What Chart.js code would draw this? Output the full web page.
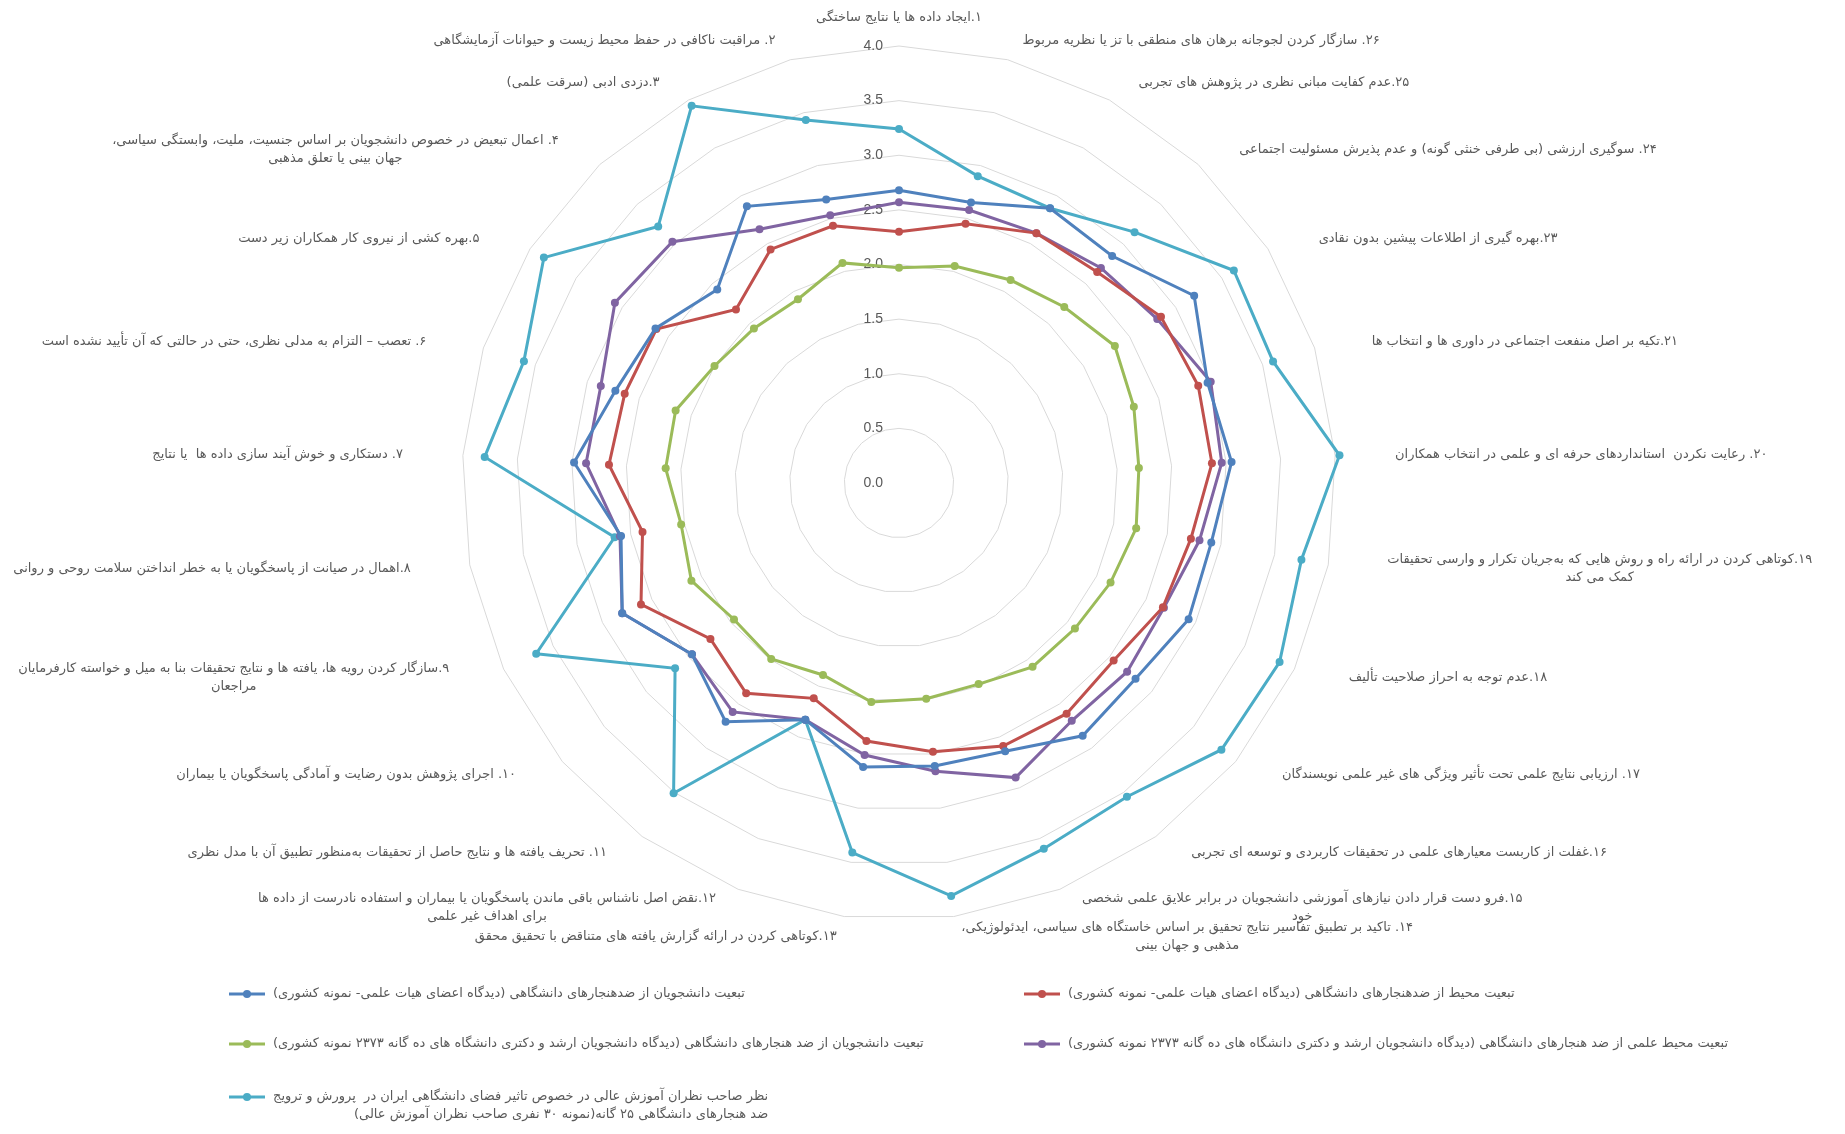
<!DOCTYPE html>
<html>
<head>
<meta charset="utf-8">
<script src="https://cdn.jsdelivr.net/npm/chart.js@4.4.0/dist/chart.umd.min.js"></script>
<style>
  html, body { margin: 0; padding: 0; background: #fff; }
  #wrap { position: relative; width: 1845px; height: 1134px; }
</style>
</head>
<body>
<div id="wrap"><canvas id="radar" width="1845" height="1134"></canvas></div>
<script>
// spokes, clockwise from the top (as in the original workbook)
const categories = [
  "۱.ایجاد داده ها یا نتایج ساختگی",
  "۲۶. سازگار کردن لجوجانه برهان های منطقی با تز یا نظریه مربوط",
  "۲۵.عدم کفایت مبانی نظری در پژوهش های تجربی",
  "۲۴. سوگیری ارزشی (بی طرفی خنثی گونه) و عدم پذیرش مسئولیت اجتماعی",
  "۲۳.بهره گیری از اطلاعات پیشین بدون نقادی",
  "۲۱.تکیه بر اصل منفعت اجتماعی در داوری ها و انتخاب ها",
  "۲۰. رعایت نکردن  استانداردهای حرفه ای و علمی در انتخاب همکاران",
  "۱۹.کوتاهی کردن در ارائه راه و روش هایی که به‌جریان تکرار و وارسی تحقیقات\nکمک می کند",
  "۱۸.عدم توجه به احراز صلاحیت تألیف",
  "۱۷. ارزیابی نتایج علمی تحت تأثیر ویژگی های غیر علمی نویسندگان",
  "۱۶.غفلت از کاربست معیارهای علمی در تحقیقات کاربردی و توسعه ای تجربی",
  "۱۵.فرو دست قرار دادن نیازهای آموزشی دانشجویان در برابر علایق علمی شخصی\nخود",
  "۱۴. تاکید بر تطبیق تفاسیر نتایج تحقیق بر اساس خاستگاه های سیاسی، ایدئولوژیکی،\nمذهبی و جهان بینی",
  "۱۳.کوتاهی کردن در ارائه گزارش یافته های متناقض با تحقیق محقق",
  "۱۲.نقض اصل ناشناس باقی ماندن پاسخگویان یا بیماران و استفاده نادرست از داده ها\nبرای اهداف غیر علمی",
  "۱۱. تحریف یافته ها و نتایج حاصل از تحقیقات به‌منظور تطبیق آن با مدل نظری",
  "۱۰. اجرای پژوهش بدون رضایت و آمادگی پاسخگویان یا بیماران",
  "۹.سازگار کردن رویه ها، یافته ها و نتایج تحقیقات بنا به میل و خواسته کارفرمایان\nمراجعان",
  "۸.اهمال در صیانت از پاسخگویان یا به خطر انداختن سلامت روحی و روانی",
  "۷. دستکاری و خوش آیند سازی داده ها  یا نتایج",
  "۶. تعصب – التزام به مدلی نظری، حتی در حالتی که آن تأیید نشده است",
  "۵.بهره کشی از نیروی کار همکاران زیر دست",
  "۴. اعمال تبعیض در خصوص دانشجویان بر اساس جنسیت، ملیت، وابستگی سیاسی،\nجهان بینی یا تعلق مذهبی",
  "۳.دزدی ادبی (سرقت علمی)",
  "۲. مراقبت ناکافی در حفظ محیط زیست و حیوانات آزمایشگاهی"
];

const seriesNames = [
  "تبعیت دانشجویان از ضدهنجارهای دانشگاهی (دیدگاه اعضای هیات علمی- نمونه کشوری)",
  "تبعیت محیط از ضدهنجارهای دانشگاهی (دیدگاه اعضای هیات علمی- نمونه کشوری)",
  "تبعیت دانشجویان از ضد هنجارهای دانشگاهی (دیدگاه دانشجویان ارشد و دکتری دانشگاه های ده گانه ۲۳۷۳ نمونه کشوری)",
  "تبعیت محیط علمی از ضد هنجارهای دانشگاهی (دیدگاه دانشجویان ارشد و دکتری دانشگاه های ده گانه ۲۳۷۳ نمونه کشوری)",
  "نظر صاحب نظران آموزش عالی در خصوص تاثیر فضای دانشگاهی ایران در  پرورش و ترویج\nضد هنجارهای دانشگاهی ۲۵ گانه(نمونه ۳۰ نفری صاحب نظران آموزش عالی)"
];

const studentsFaculty = [2.68, 2.65, 2.87, 2.85, 3.20, 2.97, 3.05, 2.91, 2.93, 2.81, 2.86, 2.64, 2.61,
                         2.62, 2.33, 2.70, 2.46, 2.80, 2.59, 2.98, 2.73, 2.64, 2.43, 2.89, 2.68];
const environmentFaculty = [2.30, 2.45, 2.61, 2.65, 2.84, 2.88, 2.87, 2.72, 2.67, 2.55, 2.61, 2.59, 2.48,
                            2.38, 2.12, 2.38, 2.24, 2.61, 2.39, 2.66, 2.64, 2.63, 2.18, 2.44, 2.43];
const studentsStudents = [1.97, 2.05, 2.12, 2.21, 2.34, 2.26, 2.20, 2.21, 2.14, 2.09, 2.08, 1.98, 1.99,
                          2.02, 1.89, 1.99, 1.96, 2.10, 2.03, 2.14, 2.15, 2.00, 1.94, 1.92, 2.08];
const environmentStudents = [2.57, 2.58, 2.61, 2.70, 2.80, 3.00, 2.96, 2.80, 2.68, 2.71, 2.69, 2.90, 2.66,
                             2.51, 2.33, 2.59, 2.46, 2.80, 2.60, 2.87, 2.87, 3.08, 3.03, 2.65, 2.53];
const experts = [3.24, 2.90, 2.87, 3.15, 3.63, 3.60, 4.04, 3.75, 3.85, 3.83, 3.55, 3.60, 3.81,
                 3.41, 2.33, 3.51, 2.66, 3.67, 2.65, 3.80, 3.61, 3.85, 3.22, 3.94, 3.43];

const scaleMin = 0, scaleMax = 4, scaleStep = 0.5;

const colors = ['#4F81BD', '#C0504D', '#9BBB59', '#8064A2', '#4BACC6'];
const allSeries = [studentsFaculty, environmentFaculty, studentsStudents, environmentStudents, experts];

// legend slots (left edge of the marker line, row centre)
const legendSlots = [[229, 994], [1024, 994], [229, 1044], [1024, 1044], [229, 1097]];

const textColor = '#595959';
const labelFont = '13px "DejaVu Sans"';

const overlay = {
  id: 'overlay',
  beforeDatasetsDraw(chart) {
    const r = chart.scales.r, ctx = chart.ctx;
    ctx.save();
    // value axis labels, left of the top spoke
    ctx.font = '14px "Liberation Sans"';
    ctx.fillStyle = textColor;
    ctx.textAlign = 'right';
    ctx.textBaseline = 'middle';
    r.ticks.forEach(t => {
      const d = r.getDistanceFromCenterForValue(t.value);
      ctx.fillText(t.value.toFixed(1), r.xCenter - 16, r.yCenter - d);
    });

    // category labels
    ctx.font = labelFont;
    ctx.direction = 'rtl';
    ctx.textAlign = 'center';
    const R = r.drawingArea, lh = 18;
    categories.forEach((c, i) => {
      const lines = c.split('\n');
      const p = r.getPointPosition(i, R);
      const s = (p.x - r.xCenter) / R, co = (r.yCenter - p.y) / R;
      const w = Math.max(...lines.map(l => ctx.measureText(l).width));
      const ax = p.x + 60 * s;
      let left;
      if (Math.abs(s) < 0.05) left = ax - w / 2;
      else if (s > 0) left = ax;
      else left = ax - w;
      const cy = i === 0 ? p.y - 28 : p.y - 20 * co;
      const top = cy - lines.length * lh / 2;
      lines.forEach((l, k) => ctx.fillText(l, left + w / 2, top + lh * k + lh / 2));
    });
    ctx.restore();
  },
  afterDraw(chart) {
    const ctx = chart.ctx;
    ctx.save();
    ctx.font = labelFont;
    ctx.fillStyle = textColor;
    ctx.textBaseline = 'middle';
    ctx.direction = 'rtl';
    chart.data.datasets.forEach((ds, i) => {
      const [x, y] = legendSlots[i];
      ctx.strokeStyle = ds.borderColor;
      ctx.lineWidth = 3;
      ctx.beginPath(); ctx.moveTo(x, y); ctx.lineTo(x + 36, y); ctx.stroke();
      ctx.fillStyle = ds.borderColor;
      ctx.beginPath(); ctx.arc(x + 18, y, 4, 0, Math.PI * 2); ctx.fill();
      ctx.fillStyle = textColor;
      const lines = ds.label.split('\n');
      const w = Math.max(...lines.map(l => ctx.measureText(l).width));
      ctx.textAlign = 'right';
      lines.forEach((l, k) => ctx.fillText(l, x + 44 + w, y + k * 18));
    });
    ctx.restore();
  }
};

new Chart(document.getElementById('radar'), {
  type: 'radar',
  data: {
    labels: categories,
    datasets: allSeries.map((vals, i) => ({
      label: seriesNames[i],
      data: vals,
      borderColor: colors[i],
      backgroundColor: colors[i],
      pointBackgroundColor: colors[i],
      pointBorderColor: colors[i],
      borderWidth: 3,
      pointRadius: 4,
      pointBorderWidth: 0,
      fill: false,
      tension: 0
    }))
  },
  options: {
    responsive: false,
    animation: false,
    layout: { padding: { left: 462, right: 509, top: 46, bottom: 214 } },
    plugins: { legend: { display: false }, tooltip: { enabled: false } },
    scales: {
      r: {
        min: scaleMin,
        max: scaleMax,
        ticks: { stepSize: scaleStep, display: false },
        grid: { color: '#D9D9D9', lineWidth: 1, circular: false },
        angleLines: { display: false },
        pointLabels: { display: false }
      }
    }
  },
  plugins: [overlay]
});
</script>
</body>
</html>
